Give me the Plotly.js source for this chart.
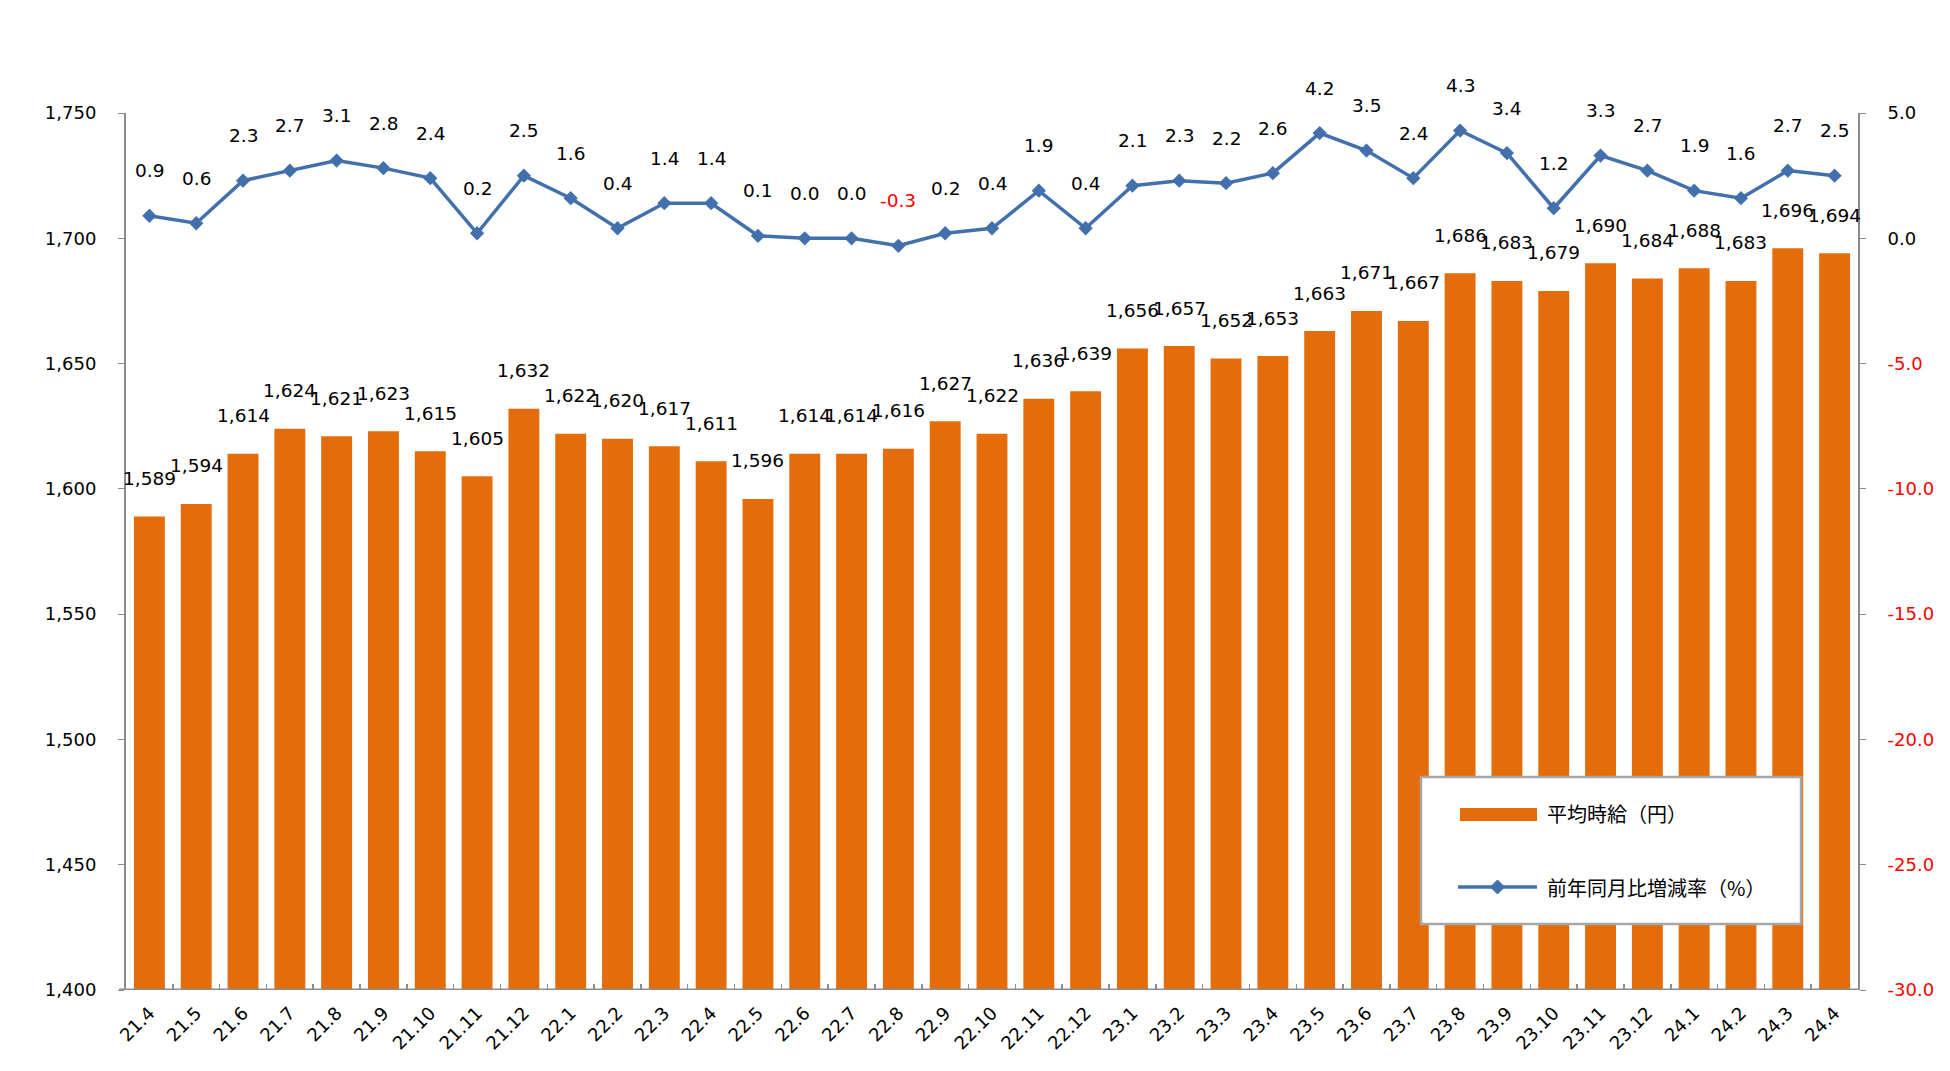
<!DOCTYPE html>
<html>
<head>
<meta charset="utf-8">
<script src="https://cdn.plot.ly/plotly-3.0.1.min.js"></script>
<style>html,body{margin:0;padding:0;background:#fff;}#chart{width:1950px;height:1071px;}</style>
</head>
<body>
<div id="chart"></div>
<script>
const categories = ["21.4","21.5","21.6","21.7","21.8","21.9","21.10","21.11","21.12","22.1","22.2","22.3","22.4","22.5","22.6","22.7","22.8","22.9","22.10","22.11","22.12","23.1","23.2","23.3","23.4","23.5","23.6","23.7","23.8","23.9","23.10","23.11","23.12","24.1","24.2","24.3","24.4"];
const wageValues = [1589,1594,1614,1624,1621,1623,1615,1605,1632,1622,1620,1617,1611,1596,1614,1614,1616,1627,1622,1636,1639,1656,1657,1652,1653,1663,1671,1667,1686,1683,1679,1690,1684,1688,1683,1696,1694];
const yoyValues = [0.9,0.6,2.3,2.7,3.1,2.8,2.4,0.2,2.5,1.6,0.4,1.4,1.4,0.1,0.0,0.0,-0.3,0.2,0.4,1.9,0.4,2.1,2.3,2.2,2.6,4.2,3.5,2.4,4.3,3.4,1.2,3.3,2.7,1.9,1.6,2.7,2.5];
const leftTickVals = [1400,1450,1500,1550,1600,1650,1700,1750];
const leftTickText = ["1,400","1,450","1,500","1,550","1,600","1,650","1,700","1,750"];
const rightTickVals = [-30,-25,-20,-15,-10,-5,0,5];
const rightTickText = ["-30.0","-25.0","-20.0","-15.0","-10.0","-5.0","0.0","5.0"];
const seriesNames = ["平均時給（円）","前年同月比増減率（%）"];

const FONT = "DejaVu Sans, Verdana, sans-serif";
const CJK = "Noto Sans CJK JP, sans-serif";
const ORANGE = "#E46C0A";
const BLUE = "#4270AD";
const AXIS = "#8C8C8C";

const idx = categories.map((c, i) => i);

const barTrace = {
  type: "bar", x: categories, y: wageValues, name: seriesNames[0],
  marker: {color: ORANGE}, yaxis: "y", showlegend: false
};
const lineTrace = {
  type: "scatter", mode: "lines+markers", x: categories, y: yoyValues, name: seriesNames[1],
  line: {color: BLUE, width: 3.5}, marker: {symbol: "diamond", size: 11, color: BLUE},
  yaxis: "y2", showlegend: false
};

const annotations = [];
idx.forEach(i => {
  annotations.push({
    x: i, y: wageValues[i], xref: "x", yref: "y",
    text: wageValues[i].toLocaleString("en-US"), showarrow: false,
    yanchor: "middle", yshift: 38, font: {family: FONT, size: 18.5, color: "#000"}
  });
  annotations.push({
    x: i, y: yoyValues[i], xref: "x", yref: "y2",
    text: yoyValues[i].toFixed(1), showarrow: false,
    yanchor: "middle", yshift: 45, font: {family: FONT, size: 18.5, color: yoyValues[i] < 0 ? "#FF0000" : "#000"}
  });
});

// Legend (box, swatches and labels) in paper coordinates; plot area is 1732 x 877 px
const px = v => (v - 126) / 1732;
const py = v => (990 - v) / 877;
annotations.push({xref: "paper", yref: "paper", x: px(1545), y: py(813), xanchor: "left", yanchor: "middle",
  text: seriesNames[0], showarrow: false, font: {family: CJK, size: 20, color: "#000"}});
annotations.push({xref: "paper", yref: "paper", x: px(1545), y: py(887), xanchor: "left", yanchor: "middle",
  text: seriesNames[1], showarrow: false, font: {family: CJK, size: 20, color: "#000"}});

const legendShapes = [
  {type: "rect", xref: "paper", yref: "paper", x0: px(1421), x1: px(1801), y0: py(924), y1: py(777),
   fillcolor: "#fff", line: {color: "#A6A6A6", width: 2.5}, layer: "above"},
  {type: "rect", xref: "paper", yref: "paper", x0: px(1460), x1: px(1537), y0: py(821), y1: py(808),
   fillcolor: ORANGE, line: {width: 0}, layer: "above"},
  {type: "line", xref: "paper", yref: "paper", x0: px(1458), x1: px(1537), y0: py(887), y1: py(887),
   line: {color: BLUE, width: 3.5}, layer: "above"},
  {type: "path", xref: "paper", yref: "paper",
   path: "M" + px(1497.5) + "," + py(880) + " L" + px(1504.5) + "," + py(887) + " L" + px(1497.5) + "," + py(894) + " L" + px(1490.5) + "," + py(887) + " Z",
   fillcolor: BLUE, line: {color: BLUE, width: 1}, layer: "above"}
];

const layout = {
  width: 1950, height: 1071,
  margin: {l: 126, r: 92, t: 113, b: 81},
  paper_bgcolor: "#fff", plot_bgcolor: "#fff",
  font: {family: FONT, size: 18, color: "#000"},
  bargap: 0.34,
  showlegend: false,
  xaxis: {
    type: "category", tickangle: -45, showgrid: false, zeroline: false,
    showline: false, ticks: "inside", tickson: "boundaries", ticklen: 6, tickcolor: AXIS, tickwidth: 1.5,
    tickfont: {family: FONT, size: 18, color: "#000"}, range: [-0.5, categories.length - 0.5],
    ticklabelstandoff: 8
  },
  yaxis: {
    range: [1400, 1750], tickvals: leftTickVals, ticktext: leftTickText,
    showgrid: false, zeroline: false, showline: true, linecolor: AXIS, linewidth: 2,
    ticks: "outside", ticklen: 6, tickcolor: AXIS, ticklabelstandoff: 18,
    tickfont: {family: FONT, size: 18, color: "#000"}
  },
  yaxis2: {
    overlaying: "y", side: "right", range: [-30, 5],
    tickvals: rightTickVals,
    ticktext: rightTickText.map((t, i) => rightTickVals[i] < 0 ? '<span style="color:#FF0000">' + t + '</span>' : t),
    showgrid: false, zeroline: false, showline: true, linecolor: AXIS, linewidth: 2,
    ticks: "outside", ticklen: 6, tickcolor: AXIS, ticklabelstandoff: 18,
    tickfont: {family: FONT, size: 18, color: "#000"}
  },
  shapes: [
    {type: "line", xref: "paper", yref: "y", x0: -0.004, x1: 1, y0: 1400, y1: 1400,
     line: {color: AXIS, width: 3}, layer: "above"}
  ].concat(legendShapes),
  annotations: annotations
};

Plotly.newPlot("chart", [barTrace, lineTrace], layout, {displayModeBar: false, staticPlot: true});
</script>
</body>
</html>
